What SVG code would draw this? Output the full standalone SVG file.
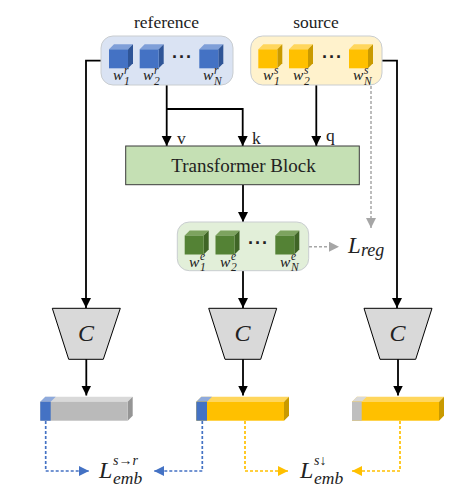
<svg xmlns="http://www.w3.org/2000/svg" xmlns:xlink="http://www.w3.org/1999/xlink" width="473" height="501" viewBox="0 0 473 501">
<style>
text{font-family:"Liberation Serif","Times New Roman",serif;fill:#222}
.lab{font-size:17.500px}
.m{font-style:italic}
.w{font-size:15.500px;font-style:italic}
.s{font-size:11.500px;font-style:italic}
.dots{font-size:18px;font-weight:bold;font-family:"Liberation Sans",sans-serif;letter-spacing:1px}
.panel{stroke:#c9cdd0;stroke-width:1}
.k{fill:none;stroke:#000;stroke-width:1.800}
.gd{fill:none;stroke:#a6a6a6;stroke-width:1.500;stroke-dasharray:3 2}
.bd{fill:none;stroke:#4472c4;stroke-width:1.700;stroke-dasharray:3 2}
.yd{fill:none;stroke:#ffc000;stroke-width:1.700;stroke-dasharray:3 2}
.trap{fill:#d9d9d9;stroke:#000;stroke-width:1}
</style>
<defs>
<marker id="ak" markerUnits="userSpaceOnUse" markerWidth="11" markerHeight="11" refX="10" refY="5" orient="auto"><path d="M0 0L10 5L0 10z" fill="#000"/></marker>
<marker id="ag" markerUnits="userSpaceOnUse" markerWidth="11" markerHeight="11" refX="10" refY="5" orient="auto"><path d="M0 0L10 5L0 10z" fill="#a6a6a6"/></marker>
<marker id="ab" markerUnits="userSpaceOnUse" markerWidth="11" markerHeight="11" refX="10" refY="5" orient="auto"><path d="M0 0L10 5L0 10z" fill="#4472c4"/></marker>
<marker id="ay" markerUnits="userSpaceOnUse" markerWidth="11" markerHeight="11" refX="10" refY="5" orient="auto"><path d="M0 0L10 5L0 10z" fill="#ffc000"/></marker>
<g id="cb"><path d="M0 5L5 0H24L19 5z" fill="#7f9fd8"/><path d="M19 5L24 0V19L19 24z" fill="#2f5597"/><rect y="5" width="19" height="19" fill="#4472c4"/></g>
<g id="cy"><path d="M0 5L5 0H24L19 5z" fill="#ffd65c"/><path d="M19 5L24 0V19L19 24z" fill="#c99a00"/><rect y="5" width="19" height="19" fill="#ffc000"/></g>
<g id="cg"><path d="M0 5L5 0H24L19 5z" fill="#7da35f"/><path d="M19 5L24 0V19L19 24z" fill="#3f6526"/><rect y="5" width="19" height="19" fill="#548235"/></g>
</defs>

<g id="connectors">
<path class="k" marker-end="url(#ak)" d="M166.700 85V146"/>
<path class="k" marker-end="url(#ak)" d="M166.700 109H242.700V146"/>
<path class="k" marker-end="url(#ak)" d="M316.300 85V146"/>
<path class="k" marker-end="url(#ak)" d="M101 60.700H86V308"/>
<path class="k" marker-end="url(#ak)" d="M382 60.700H397V308"/>
<path class="k" marker-end="url(#ak)" d="M243 185V222"/>
<path class="k" marker-end="url(#ak)" d="M243 271V308"/>
<path class="k" marker-end="url(#ak)" d="M86.300 359V395.500"/>
<path class="k" marker-end="url(#ak)" d="M243 359V395.500"/>
<path class="k" marker-end="url(#ak)" d="M398 359V395.500"/>
<path class="gd" marker-end="url(#ag)" d="M371 86V228"/>
<path class="gd" marker-end="url(#ag)" d="M309 246.700H339"/>
<path class="bd" marker-end="url(#ab)" d="M45.700 421V471H89"/>
<path class="bd" marker-end="url(#ab)" d="M202.300 421V471H154"/>
<path class="yd" marker-end="url(#ay)" d="M245 421V471H288"/>
<path class="yd" marker-end="url(#ay)" d="M400 421V471H352"/>
</g>

<g id="reference">
<text class="lab" x="166.500" y="28" text-anchor="middle">reference</text>
<rect class="panel" x="101" y="36" width="132" height="49" rx="12" fill="#dae3f3"/>
<use xlink:href="#cb" href="#cb" x="109" y="44.300"/>
<use xlink:href="#cb" href="#cb" x="139.700" y="44.300"/>
<use xlink:href="#cb" href="#cb" x="199.300" y="44.300"/>
<text class="dots" x="172" y="63">···</text>
<text class="w" x="113" y="80">w<tspan class="s" x="124" y="74">r</tspan><tspan class="s" x="124" y="84.500">1</tspan></text>
<text class="w" x="143" y="80">w<tspan class="s" x="154" y="74">r</tspan><tspan class="s" x="154" y="84.500">2</tspan></text>
<text class="w" x="203" y="80">w<tspan class="s" x="214" y="74">r</tspan><tspan class="s" x="214" y="84.500">N</tspan></text>
</g>

<g id="source">
<text class="lab" x="316" y="28" text-anchor="middle">source</text>
<rect class="panel" x="250.700" y="36" width="131.300" height="49" rx="12" fill="#fff2cc"/>
<use xlink:href="#cy" href="#cy" x="258.300" y="44.300"/>
<use xlink:href="#cy" href="#cy" x="289" y="44.300"/>
<use xlink:href="#cy" href="#cy" x="349" y="44.300"/>
<text class="dots" x="322" y="63">···</text>
<text class="w" x="263" y="80">w<tspan class="s" x="274" y="74">s</tspan><tspan class="s" x="274" y="84.500">1</tspan></text>
<text class="w" x="293" y="80">w<tspan class="s" x="304" y="74">s</tspan><tspan class="s" x="304" y="84.500">2</tspan></text>
<text class="w" x="353" y="80">w<tspan class="s" x="364" y="74">s</tspan><tspan class="s" x="364" y="84.500">N</tspan></text>
</g>

<g id="query-labels">
<text class="lab" x="177" y="144">v</text>
<text class="lab" x="252" y="144">k</text>
<text class="lab" x="326" y="141">q</text>
</g>

<g id="transformer">
<rect x="125.700" y="146" width="233.600" height="38.700" fill="#c5e0b4" stroke="#3a3a3a" stroke-width="1"/>
<text x="243.500" y="172" text-anchor="middle" style="font-size:19px">Transformer Block</text>
</g>

<g id="embedding">
<rect class="panel" x="177.300" y="222" width="131.400" height="48.700" rx="12" fill="#e2efd9"/>
<use xlink:href="#cg" href="#cg" x="184.700" y="230.500"/>
<use xlink:href="#cg" href="#cg" x="215.500" y="230.500"/>
<use xlink:href="#cg" href="#cg" x="275.300" y="230.500"/>
<text class="dots" x="248" y="249">···</text>
<text class="w" x="189" y="267">w<tspan class="s" x="200" y="260">e</tspan><tspan class="s" x="200" y="270.500">1</tspan></text>
<text class="w" x="220" y="267">w<tspan class="s" x="231" y="260">e</tspan><tspan class="s" x="231" y="270.500">2</tspan></text>
<text class="w" x="280" y="267">w<tspan class="s" x="291" y="260">e</tspan><tspan class="s" x="291" y="270.500">N</tspan></text>
</g>

<g id="lreg">
<text class="m" x="348" y="253" style="font-size:23px">L<tspan x="361" y="256" style="font-size:18px">reg</tspan></text>
</g>

<g id="c-left"><path class="trap" d="M52.300 308.300H120.300L103.300 359.300H68.700z"/><text class="m" x="86" y="341" text-anchor="middle" style="font-size:24px">C</text></g>
<g id="c-mid"><path class="trap" d="M208.700 308.300H276.700L260.700 359.300H225z"/><text class="m" x="242.500" y="341" text-anchor="middle" style="font-size:24px">C</text></g>
<g id="c-right"><path class="trap" d="M364 308.300H432L415.700 359.300H380z"/><text class="m" x="397.500" y="341" text-anchor="middle" style="font-size:24px">C</text></g>

<g id="bar-left">
<path d="M40.300 401.700L45.300 396.700H132.700L127.700 401.700z" fill="#d9d9d9"/>
<path d="M40.300 401.700L45.300 396.700H55.700L50.700 401.700z" fill="#8faadc"/>
<path d="M127.700 401.700L132.700 396.700V415.700L127.700 420.700z" fill="#959595"/>
<rect x="40.300" y="401.700" width="87.400" height="19" fill="#bababa"/>
<rect x="40.300" y="401.700" width="10.400" height="19" fill="#4472c4"/>
</g>
<g id="bar-mid">
<path d="M196.300 401.700L201.300 396.700H289L284 401.700z" fill="#ffd65c"/>
<path d="M196.300 401.700L201.300 396.700H212L207 401.700z" fill="#8faadc"/>
<path d="M284 401.700L289 396.700V415.700L284 420.700z" fill="#c99a00"/>
<rect x="196.300" y="401.700" width="87.700" height="19" fill="#ffc000"/>
<rect x="196.300" y="401.700" width="10.700" height="19" fill="#4472c4"/>
</g>
<g id="bar-right">
<path d="M352 401.700L357 396.700H444L439 401.700z" fill="#ffd65c"/>
<path d="M352 401.700L357 396.700H366.700L361.700 401.700z" fill="#d9d9d9"/>
<path d="M439 401.700L444 396.700V415.700L439 420.700z" fill="#c99a00"/>
<rect x="352" y="401.700" width="87" height="19" fill="#ffc000"/>
<rect x="352" y="401.700" width="9.700" height="19" fill="#bfbfbf"/>
</g>

<g id="loss-sr">
<text class="m" x="99" y="478" style="font-size:24px">L</text>
<text class="m" x="113" y="465" style="font-size:14px">s→r</text>
<text class="m" x="113" y="484" style="font-size:17.500px">emb</text>
</g>
<g id="loss-sd">
<text class="m" x="300" y="478" style="font-size:24px">L</text>
<text class="m" x="314" y="465" style="font-size:14px">s↓</text>
<text class="m" x="314" y="484" style="font-size:17.500px">emb</text>
</g>
</svg>
